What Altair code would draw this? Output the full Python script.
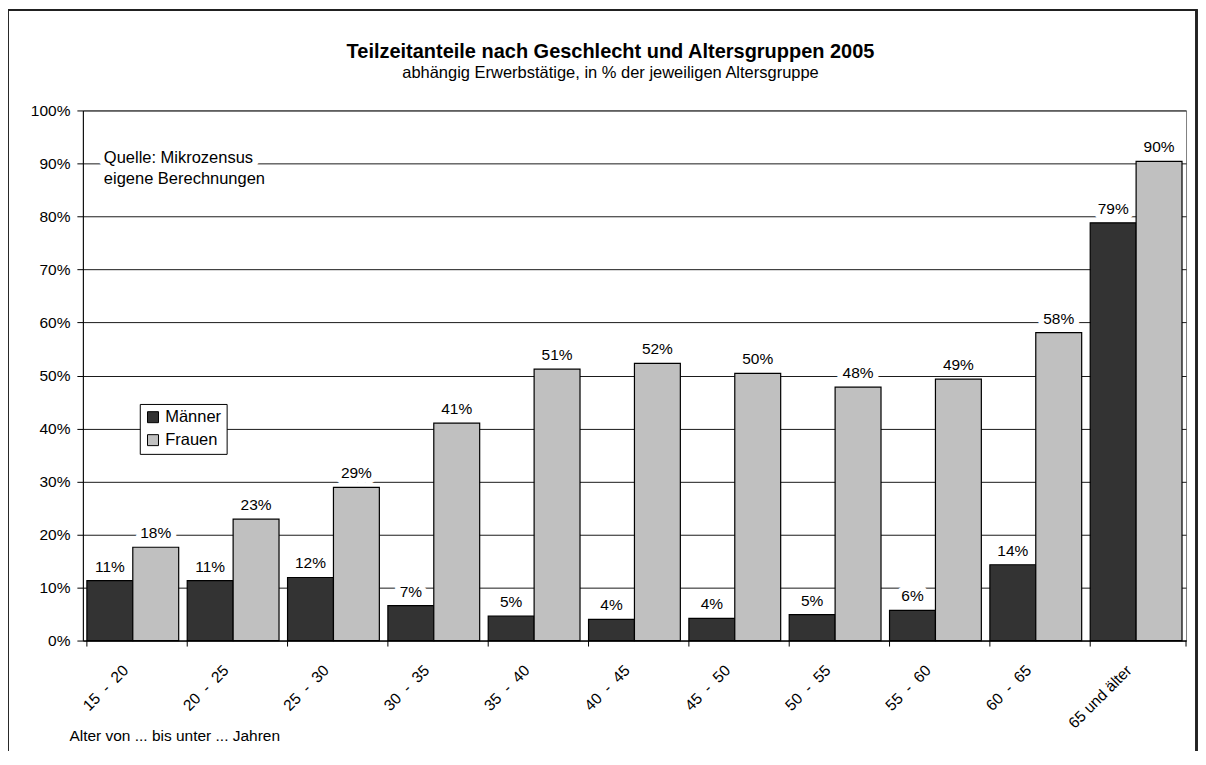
import altair as alt
import pandas as pd

NB = " \u00a0"
categories = [f"15{NB}-{NB}20", f"20{NB}-{NB}25", f"25{NB}-{NB}30", f"30{NB}-{NB}35",
              f"35{NB}-{NB}40", f"40{NB}-{NB}45", f"45{NB}-{NB}50", f"50{NB}-{NB}55",
              f"55{NB}-{NB}60", f"60{NB}-{NB}65", "65 und älter"]
maenner = [11.3, 11.3, 11.9, 6.6, 4.6, 4.0, 4.2, 4.9, 5.7, 14.3, 78.8]
frauen = [17.6, 22.9, 28.9, 41.0, 51.2, 52.3, 50.4, 47.8, 49.3, 58.1, 90.4]
groups = ["Männer", "Frauen"]
colors = ["#333333", "#C0C0C0"]
y_ticks = [0, 10, 20, 30, 40, 50, 60, 70, 80, 90, 100]

rows = []
for c, m, f in zip(categories, maenner, frauen):
    rows.append({"alter": c, "gruppe": "Männer", "wert": m})
    rows.append({"alter": c, "gruppe": "Frauen", "wert": f})
df = pd.DataFrame(rows)
cat_df = pd.DataFrame({"alter": categories})
src_df = pd.DataFrame({"txt": ["Quelle: Mikrozensus\neigene Berechnungen"]})

FONT = "Liberation Sans"
W, H = 1105, 531

x_enc = alt.X("alter:N", sort=categories,
              scale=alt.Scale(paddingInner=0.085, paddingOuter=0.04),
              axis=alt.Axis(title="Alter von ... bis unter ... Jahren", labelAngle=-45,
                            ticks=False, domainColor="black", domainWidth=1,
                            labelFont=FONT, labelFontSize=15.5, labelColor="black",
                            labelPadding=22, labelOffset=-12,
                            titleFont=FONT, titleFontSize=15.5, titleFontWeight="normal",
                            titleColor="black", titleAnchor="start", titleAlign="left",
                            titleBaseline="alphabetic", titleX=-14, titleY=100))
y_enc = alt.Y("wert:Q", scale=alt.Scale(domain=[0, 100], nice=False),
              axis=alt.Axis(title=None, values=y_ticks, labelExpr="datum.label + '%'",
                            grid=True, gridColor="#1a1a1a", gridWidth=1,
                            domainColor="black", domainWidth=1,
                            tickColor="black", tickSize=6, labelPadding=7,
                            labelFont=FONT, labelFontSize=15.5, labelColor="black"))
xo = alt.XOffset("gruppe:N", sort=groups)

frame = alt.Chart(cat_df).mark_rect(fill=None, stroke="#222222", strokeWidth=1.5).encode(
    x=alt.value(-75.5), x2=alt.value(W + 10.5), y=alt.value(-100.5), y2=alt.value(H + 200))

bars = alt.Chart(df).mark_bar(stroke="black", strokeWidth=1.2).encode(
    x=x_enc, y=y_enc, xOffset=xo,
    color=alt.Color("gruppe:N", sort=groups,
                    scale=alt.Scale(domain=groups, range=colors),
                    legend=alt.Legend(title=None, orient="none", legendX=57, legendY=294,
                                      fillColor="white", strokeColor="black", padding=5,
                                      symbolType="square", symbolSize=121,
                                      symbolStrokeColor="black", symbolStrokeWidth=1,
                                      labelFont=FONT, labelFontSize=16.5, labelColor="black",
                                      rowPadding=6, symbolOffset=0, labelOffset=4)))

label_base = alt.Chart(df).transform_calculate(
    lbl="format(datum.wert, '.0f') + '%'")
halo = label_base.mark_text(font=FONT, fontSize=15.5, baseline="alphabetic", dy=-9,
                            stroke="white", strokeWidth=11, strokeJoin="round",
                            fill="white").encode(
    x=alt.X("alter:N", sort=categories), y="wert:Q", xOffset=xo, text="lbl:N")
labels = label_base.mark_text(font=FONT, fontSize=15.5, baseline="alphabetic", dy=-9,
                              color="black").encode(
    x=alt.X("alter:N", sort=categories), y="wert:Q", xOffset=xo, text="lbl:N")

xticks = alt.Chart(cat_df).mark_rule(color="black", strokeWidth=1).encode(
    x=alt.X("alter:N", sort=categories, bandPosition=0),
    y=alt.value(H), y2=alt.value(H + 6))
xtick_end = alt.Chart(cat_df.head(1)).mark_rule(color="black", strokeWidth=1).encode(
    x=alt.value(W), y=alt.value(H), y2=alt.value(H + 6))

src_halo = alt.Chart(src_df).mark_text(font=FONT, fontSize=16.5, align="left",
                                       baseline="alphabetic", lineBreak="\n",
                                       lineHeight=21, stroke="white", strokeWidth=12,
                                       strokeJoin="round", fill="white").encode(
    x=alt.value(21), y=alt.value(53), text="txt:N")
src = alt.Chart(src_df).mark_text(font=FONT, fontSize=16.5, align="left",
                                  baseline="alphabetic", lineBreak="\n",
                                  lineHeight=21, color="black").encode(
    x=alt.value(21), y=alt.value(53), text="txt:N")

chart = alt.layer(frame, bars, halo, labels, xticks, xtick_end, src_halo, src).properties(
    width=W, height=H,
    autosize=alt.AutoSizeParams(type="none"),
    padding={"left": 75, "top": 102, "right": 12, "bottom": 110},
    background="white",
    title=alt.TitleParams(
        text="Teilzeitanteile nach Geschlecht und Altersgruppen 2005",
        subtitle="abhängig Erwerbstätige, in % der jeweiligen Altersgruppe",
        font=FONT, fontSize=20, fontWeight="bold", color="black",
        subtitleFont=FONT, subtitleFontSize=16.5, subtitleColor="black",
        subtitlePadding=3, anchor="middle", dx=-24, offset=-72)
).configure_view(stroke="#808080", strokeWidth=1)

chart.save("out.html", embed_options={"renderer": "svg", "actions": False})
